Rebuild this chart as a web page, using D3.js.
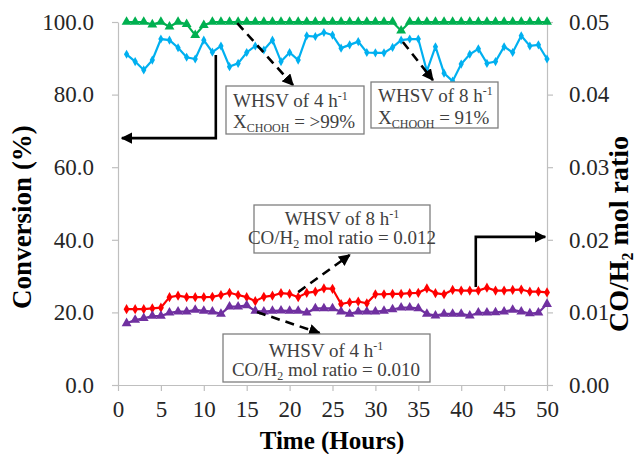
<!DOCTYPE html>
<html><head><meta charset="utf-8">
<script src="https://cdn.jsdelivr.net/npm/d3@7"></script>
<style>body{margin:0;background:#fff}svg{display:block}svg text{font-family:"Liberation Serif",serif}</style>
</head><body>
<svg id="c" width="642" height="454"></svg>
<script>
// ---- data ----
const hours = [1,2,3,4,5,6,7,8,9,10,11,12,13,14,15,16,17,18,19,20,21,22,23,24,25,26,27,28,29,30,31,32,33,34,35,36,37,38,39,40,41,42,43,44,45,46,47,48,49,50];
// conversion of formic acid (%), WHSV 4 h-1 (green) and 8 h-1 (blue)
const convWHSV4 = [100,100,100,99.3,100,98.7,100,99.4,96.4,99.1,100,100,100,100,100,100,100,100,100,100,100,100,100,100,100,100,100,100,100,100,100,100,97.6,100,100,100,100,100,100,100,100,100,100,100,100,100,100,100,100,100];
const convWHSV8 = [91.1,89.1,86.8,89.5,95.3,95.0,92.9,90.3,89.8,95.0,91.7,93.4,87.7,88.6,91.6,93.4,92.3,95.0,89.1,91.6,89.5,96.2,96.0,97.1,96.4,92.8,93.7,94.6,91.6,91.5,91.5,93.0,95.0,95.3,95.3,86.5,93.2,85.9,83.7,88.4,91.1,92.6,88.6,89.1,93.2,91.6,96.2,93.4,93.7,89.8];
// CO/H2 mol ratio, WHSV 8 h-1 (red) and 4 h-1 (purple)
const ratioWHSV8 = [0.01045,0.01045,0.01045,0.01055,0.01065,0.0121,0.0123,0.0121,0.0121,0.0121,0.01215,0.0124,0.0127,0.0124,0.0121,0.01155,0.01215,0.0123,0.01265,0.01255,0.0121,0.0127,0.01285,0.0133,0.01325,0.01115,0.0114,0.0115,0.01125,0.0125,0.0125,0.01255,0.01255,0.01265,0.0127,0.0133,0.01265,0.0125,0.0131,0.013,0.013,0.013,0.0134,0.013,0.013,0.0131,0.01315,0.01285,0.01285,0.01275];
const ratioWHSV4 = [0.0085,0.00895,0.0092,0.0095,0.0095,0.00995,0.0101,0.0101,0.01035,0.0102,0.0101,0.0098,0.0108,0.0108,0.01095,0.0102,0.0101,0.0102,0.01025,0.0102,0.0102,0.00995,0.01055,0.01055,0.01055,0.0101,0.0098,0.0101,0.0101,0.0101,0.0102,0.0104,0.01065,0.01065,0.01055,0.0098,0.00955,0.0098,0.0098,0.0098,0.00955,0.00995,0.00995,0.01,0.0101,0.01035,0.0101,0.00985,0.00995,0.01115];
const xTicks = [0,5,10,15,20,25,30,35,40,45,50];
const yLeftTicks = [0,20,40,60,80,100];
const yRightTicks = [0,0.01,0.02,0.03,0.04,0.05];

// ---- layout ----
const svg = d3.select("#c");
const FONT = "Liberation Serif";
const x = d3.scaleLinear().domain([0,50]).range([118,547]);
const yL = d3.scaleLinear().domain([0,100]).range([385,22]);
const yR = d3.scaleLinear().domain([0,0.05]).range([385,22]);
const axisColor = "#bfbfbf", textColor = "#262626";

function styleAxis(g){
  g.attr("font-family",FONT);
  g.selectAll("path,line").attr("stroke",axisColor).attr("stroke-width",1.2);
  g.selectAll("text").style("font-family",FONT).attr("font-size",23).attr("fill",textColor);
}
svg.append("g").attr("transform","translate(0,385)")
  .call(d3.axisBottom(x).tickValues(xTicks).tickSize(6).tickSizeOuter(0).tickPadding(10).tickFormat(d3.format("d")))
  .call(styleAxis);
svg.append("g").attr("transform","translate(118,0)")
  .call(d3.axisLeft(yL).tickValues(yLeftTicks).tickSize(6).tickSizeOuter(0).tickPadding(18).tickFormat(d3.format(".1f")))
  .call(styleAxis);
svg.append("g").attr("transform","translate(547,0)")
  .call(d3.axisRight(yR).tickValues(yRightTicks).tickSize(6).tickSizeOuter(0).tickPadding(16).tickFormat(d3.format(".2f")))
  .call(styleAxis);

// axis titles
function title(sel){ return sel.style("font-family",FONT).attr("font-weight","bold").attr("fill","#000"); }
svg.append("text").attr("x",332).attr("y",449).attr("text-anchor","middle").attr("font-size",25)
  .call(title).text("Time (Hours)");
svg.append("text").attr("transform","translate(31,217) rotate(-90)").attr("text-anchor","middle").attr("font-size",27)
  .call(title).text("Conversion (%)");
const rt = svg.append("text").attr("transform","translate(628,234) rotate(-90)").attr("text-anchor","middle").attr("font-size",28)
  .call(title);
rt.append("tspan").text("CO/H");
rt.append("tspan").attr("font-size",16).attr("dy",5).text("2");
rt.append("tspan").attr("dy",-5).text(" mol ratio");

// ---- series ----
function series(vals, yScale, color, symType, symSize){
  const pts = hours.map((h,i)=>[x(h), yScale(vals[i])]);
  svg.append("path").attr("d", d3.line()(pts)).attr("fill","none").attr("stroke",color).attr("stroke-width",2.2);
  svg.append("g").selectAll("path").data(pts).join("path")
    .attr("transform",d=>`translate(${d[0]},${d[1]})`)
    .attr("d", d3.symbol().type(symType).size(symSize)()).attr("fill",color);
}
series(convWHSV8, yL, "#00b0f0", d3.symbolDiamond, 24);
series(convWHSV4, yL, "#00b050", d3.symbolTriangle, 42);
series(ratioWHSV8, yR, "#ff0000", d3.symbolDiamond, 30);
series(ratioWHSV4, yR, "#7030a0", d3.symbolTriangle, 42);

// ---- annotations ----
const defs = svg.append("defs");
defs.append("marker").attr("id","ah").attr("viewBox","0 0 10 10").attr("refX",9).attr("refY",5)
  .attr("markerWidth",4.5).attr("markerHeight",4.5).attr("orient","auto")
  .append("path").attr("d","M0,0 L10,5 L0,10 z").attr("fill","#000");

function arrow(points, dashed){
  svg.append("path").attr("d", d3.line()(points)).attr("fill","none").attr("stroke","#000")
    .attr("stroke-width",2.6).attr("stroke-dasharray", dashed ? "9,6" : null).attr("marker-end","url(#ah)");
}
arrow([[x(13.9),yL(99.7)],[x(20.4),yL(82.6)]], true);
arrow([[x(33.2),yL(94.5)],[x(36.7),yL(84.0)]], true);
arrow([[x(21.0),yL(25.6)],[x(27.0),yL(35.8)]], true);
arrow([[x(16.2),yL(20.1)],[x(23.5),yL(14.3)]], true);
arrow([[x(11.4),yL(90.9)],[x(11.4),yL(68.0)],[x(0.45),yL(68.0)]], false);
arrow([[x(41.7),yL(27.0)],[x(41.7),yL(40.8)],[x(49.8),yL(40.8)]], false);

function box(x0,y0,w,h){
  svg.append("rect").attr("x",x0).attr("y",y0).attr("width",w).attr("height",h)
    .attr("fill","#fff").attr("stroke","#7f7f7f").attr("stroke-width",1.3);
}
function textLine(tx,ty,anchor,parts){
  const t = svg.append("text").attr("x",tx).attr("y",ty).attr("text-anchor",anchor)
    .style("font-family",FONT).attr("font-size",19).attr("fill","#404040");
  let cur = 0;
  parts.forEach(p=>{
    const s = t.append("tspan").text(p.t);
    let target = p.sup ? -7 : p.sub ? 4 : 0;
    if (p.sup || p.sub) s.attr("font-size",12);
    s.attr("dy", target-cur); cur = target;
  });
}
box(226,86,138,48);
textLine(233,107,"start",[{t:"WHSV of 4 h"},{t:"-1",sup:true}]);
textLine(233,128,"start",[{t:"X"},{t:"CHOOH",sub:true},{t:" = >99%"}]);
box(371,82,127,46);
textLine(378,102,"start",[{t:"WHSV of 8 h"},{t:"-1",sup:true}]);
textLine(378,124,"start",[{t:"X"},{t:"CHOOH",sub:true},{t:" = 91%"}]);
box(254,205,176,48);
textLine(342,225,"middle",[{t:"WHSV of 8 h"},{t:"-1",sup:true}]);
textLine(342,244,"middle",[{t:"CO/H"},{t:"2",sub:true},{t:" mol ratio = 0.012"}]);
box(223,334,207,48);
textLine(326,357,"middle",[{t:"WHSV of 4 h"},{t:"-1",sup:true}]);
textLine(326,376,"middle",[{t:"CO/H"},{t:"2",sub:true},{t:" mol ratio = 0.010"}]);
</script>
</body></html>
